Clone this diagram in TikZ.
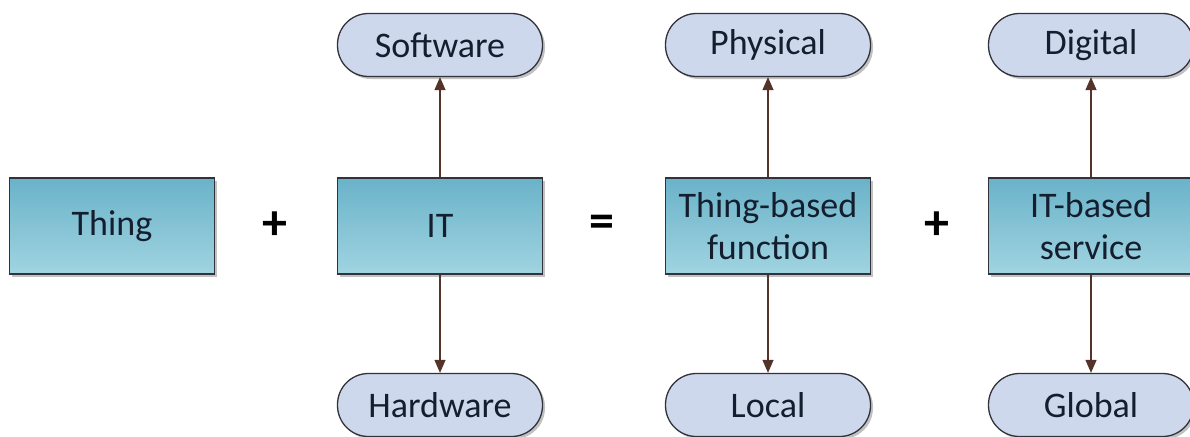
\documentclass[tikz,border=0pt]{standalone}
\usepackage{fontspec}
\setmainfont{Carlito}
\usetikzlibrary{shadows,arrows.meta}
\definecolor{boxtop}{RGB}{106,178,201}
\definecolor{boxbot}{RGB}{160,212,225}
\definecolor{pillfill}{RGB}{206,216,236}
\definecolor{edge}{RGB}{50,50,58}
\definecolor{ink}{RGB}{20,30,46}
\definecolor{link}{RGB}{84,52,40}
\begin{document}
\begin{tikzpicture}[x=1pt,y=-1pt,
  every node/.style={inner sep=0pt, text=ink, align=center},
  stagebox/.style={draw=edge, line width=1.3pt, top color=boxtop, bottom color=boxbot,
    minimum width=205pt, minimum height=96pt,
    font=\fontsize{36}{42}\selectfont,
    drop shadow={shadow xshift=2.5pt, shadow yshift=-2.5pt, opacity=0.35, fill=black!70}},
  pill/.style={draw=edge, line width=1.3pt, fill=pillfill, rounded corners=31pt,
    minimum width=205pt, minimum height=63pt,
    font=\fontsize{36}{42}\selectfont,
    drop shadow={shadow xshift=2.5pt, shadow yshift=-2.5pt, opacity=0.35, fill=black!70}},
  opsign/.style={font=\fontsize{50}{50}\selectfont\bfseries, text=black},
  link/.style={draw=link, line width=1.3pt, -{Triangle[length=13pt,width=11pt]}}]
\useasboundingbox (0,0) rectangle (1190,436);

% main row
\node[stagebox] (thing) at (112,226) {Thing};
\node[stagebox] (it) at (440,226) {IT};
\node[stagebox] (func) at (768,226) {Thing-based\\function};
\node[stagebox] (serv) at (1091,226) {IT-based\\service};

% operators
\node[opsign] (plusA) at (275,226) {+};
\node[opsign] (eq) at (602,226) {=};
\node[opsign] (plusB) at (937,226) {+};

% upper aspects
\node[pill] (soft) at (440,45) {Software};
\node[pill] (phys) at (768,45) {Physical};
\node[pill] (dig) at (1091,45) {Digital};

% lower aspects
\node[pill] (hard) at (440,405) {Hardware};
\node[pill] (loc) at (768,405) {Local};
\node[pill] (glob) at (1091,405) {Global};

% connectors
\draw[link] (it) -- (soft);
\draw[link] (it) -- (hard);
\draw[link] (func) -- (phys);
\draw[link] (func) -- (loc);
\draw[link] (serv) -- (dig);
\draw[link] (serv) -- (glob);
\end{tikzpicture}
\end{document}
